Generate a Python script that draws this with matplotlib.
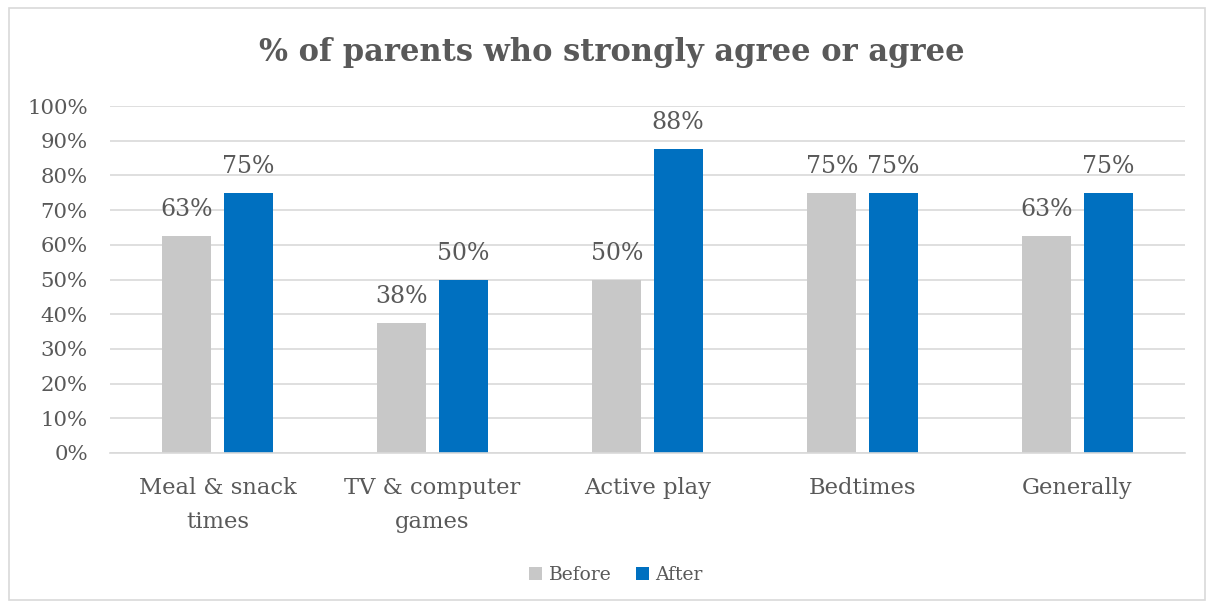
import matplotlib
matplotlib.use("Agg")
import matplotlib.pyplot as plt
import numpy as np
from matplotlib.patches import Rectangle

# Data
categories = ["Meal & snack\ntimes", "TV & computer\ngames", "Active play", "Bedtimes", "Generally"]
before = [62.5, 37.5, 50, 75, 62.5]
after = [75, 50, 87.5, 75, 75]
before_labels = ["63%", "38%", "50%", "75%", "63%"]
after_labels = ["75%", "50%", "88%", "75%", "75%"]
yticks = [0, 10, 20, 30, 40, 50, 60, 70, 80, 90, 100]

TEXT = "#595959"
GRID = "#d9d9d9"
GREY = "#c8c8c8"
BLUE = "#0070c0"

plt.rcParams["font.family"] = ["DejaVu Serif"]


def main():
    fig = plt.figure(figsize=(12.14, 6.08), dpi=100)
    fig.patches.append(Rectangle((9 / 1214, 8 / 608), 1196 / 1214, 592 / 608,
                                 transform=fig.transFigure, fill=False,
                                 edgecolor=GRID, linewidth=1.2))
    ax = fig.add_axes([110 / 1214, 1 - 453 / 608, 1075 / 1214, 347 / 608])

    x = np.arange(len(categories))
    w = 0.228
    off = 0.142
    ax.bar(x - off, before, w, color=GREY, label="Before", zorder=2)
    ax.bar(x + off, after, w, color=BLUE, label="After", zorder=2)

    # value labels, centred ~26 px above the bar tops
    for i in range(len(categories)):
        ax.annotate(before_labels[i], (x[i] - off, before[i]), xytext=(0, 19),
                    textcoords="offset points", ha="center", va="center",
                    fontsize=17, color=TEXT)
        ax.annotate(after_labels[i], (x[i] + off, after[i]), xytext=(0, 19),
                    textcoords="offset points", ha="center", va="center",
                    fontsize=17, color=TEXT)

    ax.set_xlim(-0.5, len(categories) - 0.5)
    ax.set_ylim(0, 100)
    ax.set_yticks(yticks)
    ax.set_yticklabels([f"{t}%" for t in yticks], fontsize=15.3, color=TEXT)
    ax.set_xticks(x)
    ax.set_xticklabels(categories, fontsize=16.3, color=TEXT, linespacing=1.72)
    ax.tick_params(axis="both", length=0)
    ax.tick_params(axis="x", pad=17)
    ax.tick_params(axis="y", pad=16)
    ax.grid(axis="y", color=GRID, linewidth=1.2, zorder=0)
    for s in ["top", "right", "left"]:
        ax.spines[s].set_visible(False)
    ax.spines["bottom"].set_color(GRID)
    ax.spines["bottom"].set_linewidth(1.2)

    fig.text(612 / 1214, 1 - 53 / 608, "% of parents who strongly agree or agree",
             ha="center", va="center", fontsize=22, fontweight="bold", color=TEXT)

    fig.legend(loc="center", bbox_to_anchor=(616 / 1214, 1 - 575 / 608), ncol=2,
               frameon=False, fontsize=13.5, labelcolor=TEXT, handlelength=0.7,
               handleheight=0.7, handletextpad=0.35, columnspacing=1.3)

    fig.savefig("out.png", dpi=100)


if __name__ == "__main__":
    main()
